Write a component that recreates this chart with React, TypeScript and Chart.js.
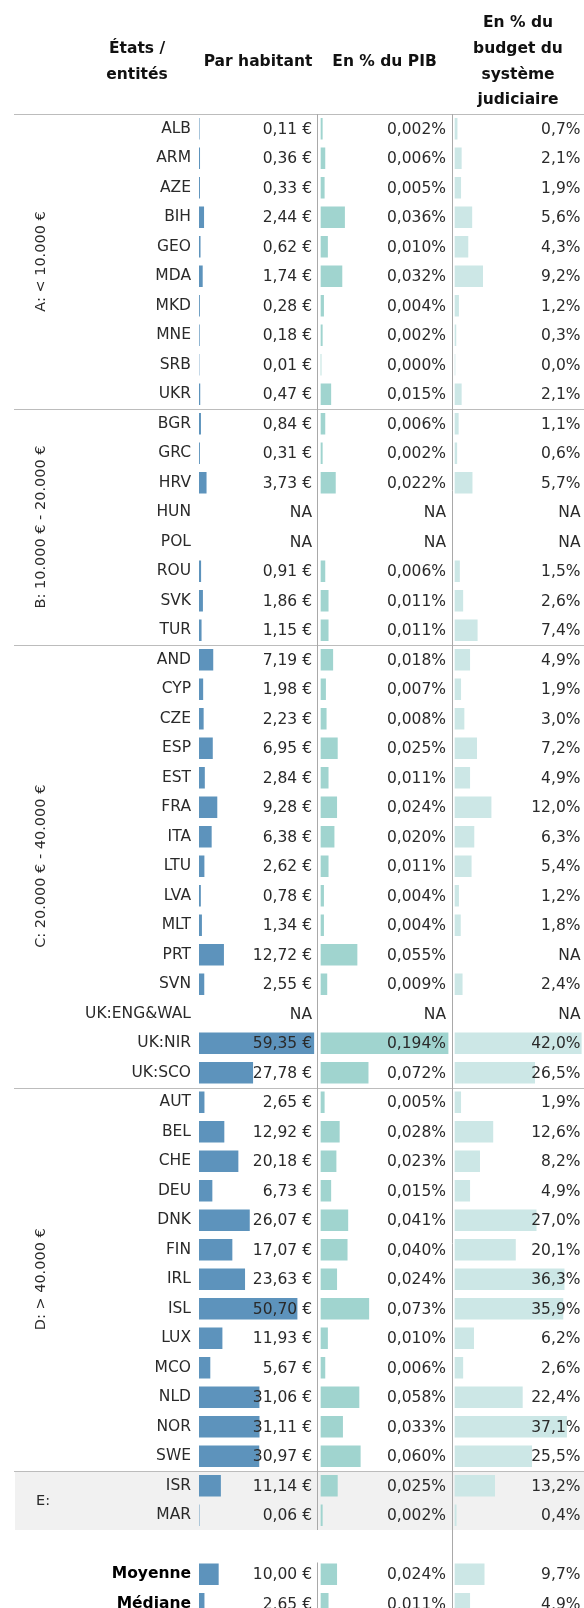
import React, { useEffect, useRef } from 'react';
import { Chart, registerables } from 'chart.js';

Chart.register(...registerables);

// ---------- data ----------
const groupLabels = ['A: < 10.000 €', 'B: 10.000 € - 20.000 €', 'C: 20.000 € - 40.000 €', 'D: > 40.000 €', 'E:'];
const groupSizes = [10, 8, 15, 13, 2];

const countries = [
  'ALB', 'ARM', 'AZE', 'BIH', 'GEO', 'MDA', 'MKD', 'MNE', 'SRB', 'UKR',
  'BGR', 'GRC', 'HRV', 'HUN', 'POL', 'ROU', 'SVK', 'TUR',
  'AND', 'CYP', 'CZE', 'ESP', 'EST', 'FRA', 'ITA', 'LTU', 'LVA', 'MLT', 'PRT', 'SVN', 'UK:ENG&WAL', 'UK:NIR', 'UK:SCO',
  'AUT', 'BEL', 'CHE', 'DEU', 'DNK', 'FIN', 'IRL', 'ISL', 'LUX', 'MCO', 'NLD', 'NOR', 'SWE',
  'ISR', 'MAR',
];

const perCapita: (number | null)[] = [
  0.11, 0.36, 0.33, 2.44, 0.62, 1.74, 0.28, 0.18, 0.01, 0.47,
  0.84, 0.31, 3.73, null, null, 0.91, 1.86, 1.15,
  7.19, 1.98, 2.23, 6.95, 2.84, 9.28, 6.38, 2.62, 0.78, 1.34, 12.72, 2.55, null, 59.35, 27.78,
  2.65, 12.92, 20.18, 6.73, 26.07, 17.07, 23.63, 50.7, 11.93, 5.67, 31.06, 31.11, 30.97,
  11.14, 0.06,
];

const pctGdp: (number | null)[] = [
  0.002, 0.006, 0.005, 0.036, 0.010, 0.032, 0.004, 0.002, 0.000, 0.015,
  0.006, 0.002, 0.022, null, null, 0.006, 0.011, 0.011,
  0.018, 0.007, 0.008, 0.025, 0.011, 0.024, 0.020, 0.011, 0.004, 0.004, 0.055, 0.009, null, 0.194, 0.072,
  0.005, 0.028, 0.023, 0.015, 0.041, 0.040, 0.024, 0.073, 0.010, 0.006, 0.058, 0.033, 0.060,
  0.025, 0.002,
];

const pctBudget: (number | null)[] = [
  0.7, 2.1, 1.9, 5.6, 4.3, 9.2, 1.2, 0.3, 0.0, 2.1,
  1.1, 0.6, 5.7, null, null, 1.5, 2.6, 7.4,
  4.9, 1.9, 3.0, 7.2, 4.9, 12.0, 6.3, 5.4, 1.2, 1.8, null, 2.4, null, 42.0, 26.5,
  1.9, 12.6, 8.2, 4.9, 27.0, 20.1, 36.3, 35.9, 6.2, 2.6, 22.4, 37.1, 25.5,
  13.2, 0.4,
];

const summaryLabels = ['Moyenne', 'Médiane'];
const summaryPerCapita = [10.0, 2.65];
const summaryGdp = [0.024, 0.011];
const summaryBudget = [9.7, 4.9];

const headers = [
  ['États /', 'entités'],
  ['Par habitant'],
  ['En % du PIB'],
  ['En % du', 'budget du', 'système', 'judiciaire'],
];

// ---------- derived tables ----------
const labels = [...countries, '', ...summaryLabels];
const blankIndex = countries.length;
const colPerCapita = [...perCapita, null, ...summaryPerCapita];
const colGdp = [...pctGdp, null, ...summaryGdp];
const colBudget = [...pctBudget, null, ...summaryBudget];

const fmt = (v: number | null, digits: number, suffix: string) =>
  v == null ? 'NA' : v.toFixed(digits).replace('.', ',') + suffix;

const FONT = '"DejaVu Sans", sans-serif';
const TEXT = '#2a2a2a';
const W = 584;
const H = 1620;

const tablePlugin = {
  id: 'tablePlugin',
  beforeDraw(chart: any) {
    const { ctx } = chart;
    const y = chart.scales.y;
    const xB = chart.scales.xB;
    const xC = chart.scales.xC;
    const pitch = y.getPixelForValue(1) - y.getPixelForValue(0);
    const top = (i: number) => y.getPixelForValue(i) - pitch / 2;
    const left = 14;

    const starts: number[] = [];
    let acc = 0;
    groupSizes.forEach((n) => { starts.push(acc); acc += n; });

    ctx.save();
    // grey band for last group
    const lastStart = starts[starts.length - 1];
    ctx.fillStyle = '#f1f1f1';
    ctx.fillRect(left + 1, top(lastStart), W - left - 1, top(acc) - top(lastStart));

    // horizontal lines
    ctx.strokeStyle = '#bcbcbc';
    ctx.lineWidth = 1;
    starts.forEach((s) => {
      const yy = Math.round(top(s)) + 0.5;
      ctx.beginPath();
      ctx.moveTo(left, yy);
      ctx.lineTo(W, yy);
      ctx.stroke();
    });

    // vertical separators
    ctx.strokeStyle = '#a9a9a9';
    const t0 = top(0);
    const xb = Math.round(xB.left) + 0.5;
    const xc = Math.round(xC.left) + 0.5;
    ctx.beginPath();
    ctx.moveTo(xb, t0);
    ctx.lineTo(xb, top(acc));
    ctx.moveTo(xb, top(blankIndex + 1) + 3);
    ctx.lineTo(xb, H);
    ctx.moveTo(xc, t0);
    ctx.lineTo(xc, H);
    ctx.stroke();

    // group labels
    ctx.fillStyle = TEXT;
    ctx.font = `14.5px ${FONT}`;
    ctx.textAlign = 'center';
    ctx.textBaseline = 'middle';
    groupLabels.forEach((g, gi) => {
      const s = starts[gi];
      const e = s + groupSizes[gi];
      const cy = (top(s) + top(e)) / 2;
      if (groupSizes[gi] > 3) {
        ctx.save();
        ctx.translate(41.5, cy);
        ctx.rotate(-Math.PI / 2);
        ctx.fillText(g, 0, 0);
        ctx.restore();
      } else {
        ctx.fillText(g, 43, cy + 1);
      }
    });

    // headers
    ctx.fillStyle = '#111';
    ctx.font = `bold 15.5px ${FONT}`;
    const centers = [137, (chart.scales.xA.left + xB.left) / 2, (xB.left + xC.left) / 2, (xC.left + W) / 2];
    const lh = 25.6;
    headers.forEach((lines, hi) => {
      const y0 = 61.8 - ((lines.length - 1) * lh) / 2;
      lines.forEach((ln, li) => ctx.fillText(ln, centers[hi], y0 + li * lh));
    });
    ctx.restore();
  },
  afterDraw(chart: any) {
    const { ctx } = chart;
    const y = chart.scales.y;
    const cols = [
      { scale: chart.scales.xA, data: colPerCapita, digits: 2, suffix: ' €', pad: 5 },
      { scale: chart.scales.xB, data: colGdp, digits: 3, suffix: '%', pad: 6 },
      { scale: chart.scales.xC, data: colBudget, digits: 1, suffix: '%', pad: 3.5 },
    ];
    ctx.save();
    ctx.fillStyle = TEXT;
    ctx.font = `15.5px ${FONT}`;
    ctx.textAlign = 'right';
    ctx.textBaseline = 'middle';
    labels.forEach((lab, i) => {
      if (i === blankIndex) return;
      const yy = y.getPixelForValue(i) + 1;
      cols.forEach((c) => {
        ctx.fillText(fmt(c.data[i], c.digits, c.suffix), c.scale.right - c.pad, yy);
      });
    });
    ctx.restore();
  },
};

export default function App() {
  const ref = useRef<HTMLCanvasElement | null>(null);

  useEffect(() => {
    if (!ref.current) return;
    const chart = new Chart(ref.current, {
      type: 'bar',
      data: {
        labels,
        datasets: [
          { data: colPerCapita, xAxisID: 'xA', yAxisID: 'y', backgroundColor: '#5d93bc', grouped: false, barThickness: 21 } as any,
          { data: colGdp, xAxisID: 'xB', yAxisID: 'y', backgroundColor: '#a0d4cf', grouped: false, barThickness: 21 } as any,
          { data: colBudget, xAxisID: 'xC', yAxisID: 'y', backgroundColor: '#cce7e6', grouped: false, barThickness: 21 } as any,
        ],
      },
      options: {
        indexAxis: 'y',
        responsive: false,
        animation: false,
        devicePixelRatio: 1,
        layout: { padding: { top: 114, bottom: 1.5, left: 0, right: 0 } },
        plugins: { legend: { display: false }, tooltip: { enabled: false } },
        scales: {
          y: {
            type: 'category',
            position: 'left',
            offset: true,
            grid: { display: false, drawTicks: false },
            border: { display: false },
            ticks: {
              autoSkip: false,
              padding: 8,
              color: (c: any) => (c.index > blankIndex ? '#000' : TEXT),
              font: (c: any) =>
                c.index > blankIndex
                  ? { family: FONT, size: 15.5, weight: 'bold' }
                  : { family: FONT, size: 15.5, weight: 'normal' },
            },
            afterFit: (s: any) => {
              s.width = 199;
              s.paddingTop = 0;
              s.paddingBottom = 0;
            },
          },
          xA: { type: 'linear', position: 'bottom', stack: 'cols', stackWeight: 118, min: 0, max: 61, display: false },
          xB: { type: 'linear', position: 'bottom', stack: 'cols', stackWeight: 135, min: -0.0061, max: 0.2, display: false },
          xC: { type: 'linear', position: 'bottom', stack: 'cols', stackWeight: 132, min: -1, max: 42.9, display: false },
        } as any,
      },
      plugins: [tablePlugin],
    });
    return () => chart.destroy();
  }, []);

  return (
    <div style={{ position: 'absolute', left: 0, top: 0, width: W, height: 1608, overflow: 'hidden', background: '#fff' }}>
      <canvas ref={ref} width={W} height={H} style={{ display: 'block', width: W, height: H }} />
    </div>
  );
}
